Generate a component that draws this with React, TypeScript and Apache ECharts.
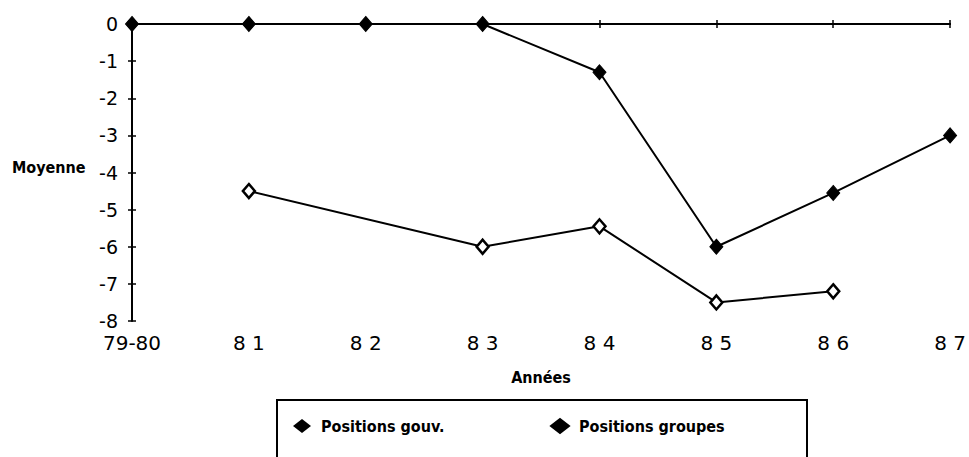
import React, { useEffect, useRef } from "react";
import * as echarts from "echarts";

const categories = ["79-80", "81", "82", "83", "84", "85", "86", "87"];
const gouv = [0, 0, 0, 0, -1.3, -6.0, -4.55, -3.0];
const groupes = [null, -4.5, null, -6.0, -5.45, -7.5, -7.2, null];
const yTicks = { min: -8, max: 0, interval: 1 };

const FONT = "DejaVu Sans";
const BFONT = "DejaVu Sans Condensed";

export default function App() {
  const ref = useRef<HTMLDivElement>(null);
  useEffect(() => {
    if (!ref.current) return;
    const chart = echarts.init(ref.current, null, { renderer: "svg" });
    const axisCommon = {
      type: "category" as const,
      data: categories,
      boundaryGap: false,
    };
    const legendText = {
      color: "#000",
      fontFamily: BFONT,
      fontWeight: "bold" as const,
      fontSize: 16,
      padding: [0, 0, 0, 5],
    };
    chart.setOption({
      animation: false,
      backgroundColor: "#fff",
      grid: { left: 132, right: 16, top: 24, bottom: 136, containLabel: false },
      xAxis: [
        {
          ...axisCommon,
          position: "bottom",
          axisLine: { show: true, lineStyle: { color: "#000", width: 2 } },
          axisTick: { show: false },
          axisLabel: {
            color: "#000",
            fontFamily: FONT,
            fontSize: 20,
            margin: 12,
            formatter: (v: string) => (v.length === 2 ? v.split("").join(" ") : v),
          },
          splitLine: { show: false },
        },
        {
          ...axisCommon,
          position: "top",
          axisLine: { show: true, lineStyle: { color: "#000", width: 2 } },
          axisTick: { show: true, length: 4, inside: false, lineStyle: { color: "#000", width: 1.5 } },
          axisLabel: { show: false },
          splitLine: { show: false },
        },
        {
          ...axisCommon,
          position: "top",
          axisLine: { show: false },
          axisTick: { show: true, length: 4, inside: true, lineStyle: { color: "#000", width: 1.5 } },
          axisLabel: { show: false },
          splitLine: { show: false },
        },
      ],
      yAxis: [
        {
          type: "value",
          min: yTicks.min,
          max: yTicks.max,
          interval: yTicks.interval,
          axisLine: { show: true, lineStyle: { color: "#000", width: 2 } },
          axisTick: { show: true, length: 4, lineStyle: { color: "#000", width: 1.5 } },
          axisLabel: { color: "#000", fontFamily: FONT, fontSize: 19, margin: 14 },
          splitLine: { show: false },
        },
        {
          type: "value",
          position: "left",
          min: yTicks.min,
          max: yTicks.max,
          interval: yTicks.interval,
          axisLine: { show: false },
          axisTick: { show: true, inside: true, length: 4, lineStyle: { color: "#000", width: 1.5 } },
          axisLabel: { show: false },
          splitLine: { show: false },
        },
      ],
      legend: [
        {
          data: [{ name: "Positions gouv.", icon: "diamond", itemStyle: { color: "#000", borderColor: "#000" } }],
          left: 293,
          top: 418,
          padding: 0,
          itemWidth: 18,
          itemHeight: 14,
          textStyle: legendText,
        },
        {
          data: [{ name: "Positions groupes", icon: "diamond", itemStyle: { color: "#000", borderColor: "#000" } }],
          left: 550,
          top: 418,
          padding: 0,
          itemWidth: 18,
          itemHeight: 14,
          textStyle: legendText,
        },
      ],
      graphic: [
        {
          type: "rect",
          shape: { x: 277, y: 400, width: 530, height: 80 },
          style: { fill: "none", stroke: "#000", lineWidth: 2 },
        },
        {
          type: "text",
          x: 541,
          y: 377,
          style: {
            text: "Années",
            fontFamily: BFONT,
            fontWeight: "bold",
            fontSize: 16,
            fill: "#000",
            textAlign: "center",
            textVerticalAlign: "middle",
          },
        },
        {
          type: "text",
          x: 12,
          y: 167,
          style: {
            text: "Moyenne",
            fontFamily: BFONT,
            fontWeight: "bold",
            fontSize: 16,
            fill: "#000",
            textAlign: "left",
            textVerticalAlign: "middle",
          },
        },
      ],
      series: [
        {
          name: "Positions gouv.",
          type: "line",
          data: gouv,
          symbol: "diamond",
          symbolSize: [13, 15],
          lineStyle: { color: "#000", width: 2 },
          itemStyle: { color: "#000", borderColor: "#000" },
          z: 3,
        },
        {
          name: "Positions groupes",
          type: "line",
          data: groupes,
          connectNulls: true,
          symbol: "diamond",
          symbolSize: [12, 14],
          showAllSymbol: true,
          lineStyle: { color: "#000", width: 2 },
          itemStyle: { color: "#fff", borderColor: "#000", borderWidth: 2.5 },
          z: 3,
        },
      ],
    });
    return () => chart.dispose();
  }, []);
  return <div ref={ref} style={{ width: 969, height: 457, position: "absolute", left: 0, top: 0 }} />;
}
